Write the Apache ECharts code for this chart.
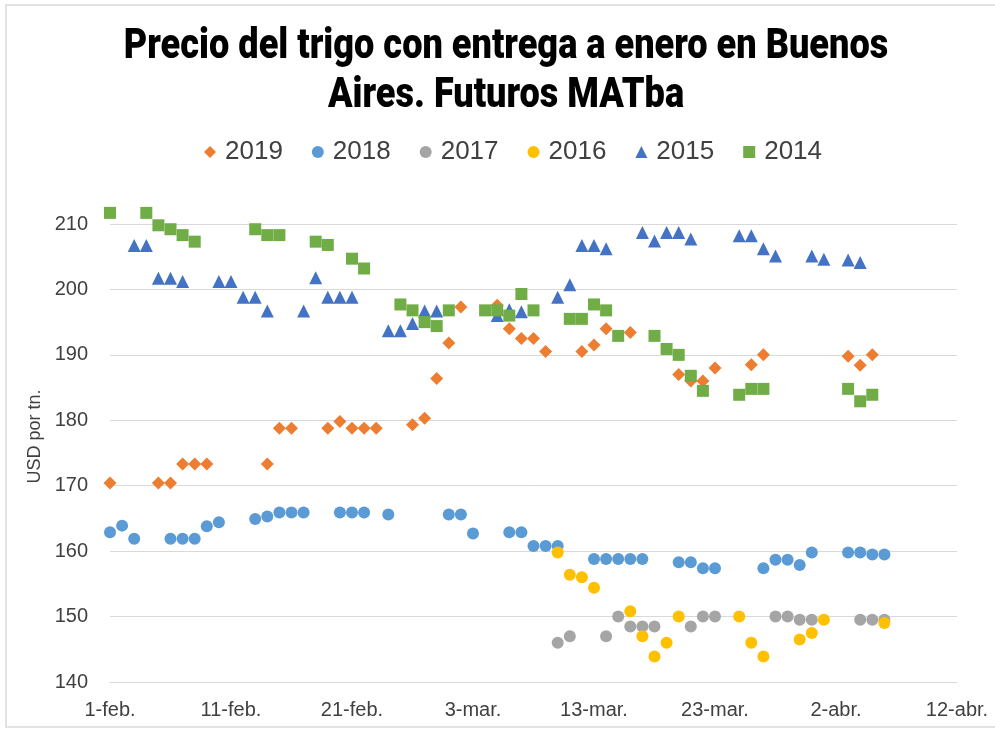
<!DOCTYPE html>
<html>
<head>
<meta charset="utf-8">
<script src="https://cdn.jsdelivr.net/npm/echarts@6/dist/echarts.min.js"></script>
<style>
html,body{margin:0;padding:0;background:#fff;}
#chart{width:995px;height:729px;}
</style>
</head>
<body>
<div id="chart"></div>
<script>
// Title lines and axis labels
const titleLines = ['Precio del trigo con entrega a enero en Buenos', 'Aires. Futuros MATba'];
// X axis: days since 1-feb.
const xTickLabels = ['1-feb.', '11-feb.', '21-feb.', '3-mar.', '13-mar.', '23-mar.', '2-abr.', '12-abr.'];
const seriesNames = ['2019', '2018', '2017', '2016', '2015', '2014'];

const days2019 = [0, 4, 5, 6, 7, 8, 13, 14, 15, 18, 19, 20, 21, 22, 25, 26, 27, 28, 29, 32, 33, 34, 35, 36, 39, 40, 41, 43, 47, 48, 49, 50, 53, 54, 61, 62, 63];
const values2019 = [170.4, 170.4, 170.4, 173.3, 173.3, 173.3, 173.3, 178.8, 178.8, 178.8, 179.8, 178.8, 178.8, 178.8, 179.3, 180.3, 186.4, 191.8, 197.3, 197.6, 194.0, 192.5, 192.5, 190.5, 190.5, 191.5, 194.0, 193.4, 187.0, 186.0, 186.0, 188.0, 188.5, 190.0, 189.8, 188.4, 190.0];

const days2018 = [0, 1, 2, 5, 6, 7, 8, 9, 12, 13, 14, 15, 16, 19, 20, 21, 23, 28, 29, 30, 33, 34, 35, 36, 37, 40, 41, 42, 43, 44, 47, 48, 49, 50, 54, 55, 56, 57, 58, 61, 62, 63, 64];
const values2018 = [162.9, 163.9, 161.9, 161.9, 161.9, 161.9, 163.8, 164.4, 164.9, 165.3, 165.9, 165.9, 165.9, 165.9, 165.9, 165.9, 165.6, 165.6, 165.6, 162.7, 162.9, 162.9, 160.8, 160.8, 160.8, 158.8, 158.8, 158.8, 158.8, 158.8, 158.3, 158.3, 157.4, 157.4, 157.4, 158.7, 158.7, 157.9, 159.8, 159.8, 159.8, 159.5, 159.5];

const days2017 = [37, 38, 41, 42, 43, 44, 45, 48, 49, 50, 55, 56, 57, 58, 62, 63, 64];
const values2017 = [146.0, 147.0, 147.0, 150.0, 148.5, 148.5, 148.5, 148.5, 150.0, 150.0, 150.0, 150.0, 149.5, 149.5, 149.5, 149.5, 149.5];

const days2016 = [37, 38, 39, 40, 43, 44, 45, 46, 47, 52, 53, 54, 57, 58, 59, 64];
const values2016 = [159.8, 156.4, 156.0, 154.4, 150.8, 147.0, 143.9, 146.0, 150.0, 150.0, 146.0, 143.9, 146.5, 147.5, 149.5, 149.0];

const days2015 = [2, 3, 4, 5, 6, 9, 10, 11, 12, 13, 16, 17, 18, 19, 20, 23, 24, 25, 26, 27, 32, 33, 34, 37, 38, 39, 40, 41, 44, 45, 46, 47, 48, 52, 53, 54, 55, 58, 59, 61, 62];
const values2015 = [206.7, 206.7, 201.7, 201.7, 201.2, 201.2, 201.2, 198.8, 198.8, 196.7, 196.7, 201.8, 198.8, 198.8, 198.8, 193.7, 193.7, 194.8, 196.7, 196.7, 196.0, 196.9, 196.6, 198.8, 200.7, 206.7, 206.7, 206.2, 208.7, 207.4, 208.7, 208.7, 207.7, 208.2, 208.2, 206.2, 205.1, 205.1, 204.6, 204.5, 204.1];

const days2014 = [0, 3, 4, 5, 6, 7, 12, 13, 14, 17, 18, 20, 21, 24, 25, 26, 27, 28, 31, 32, 33, 34, 35, 38, 39, 40, 41, 42, 45, 46, 47, 48, 49, 52, 53, 54, 61, 62, 63];
const values2014 = [211.7, 211.7, 209.8, 209.2, 208.3, 207.3, 209.2, 208.3, 208.3, 207.3, 206.8, 204.7, 203.2, 197.7, 196.8, 195.0, 194.4, 196.8, 196.8, 196.8, 196.0, 199.3, 196.8, 195.5, 195.5, 197.7, 196.8, 192.9, 192.9, 190.9, 190.0, 186.8, 184.5, 183.9, 184.8, 184.8, 184.8, 182.9, 183.9];

const allDays = [days2019, days2018, days2017, days2016, days2015, days2014];
const allValues = [values2019, values2018, values2017, values2016, values2015, values2014];
const colors = ['#ED7D31', '#5B9BD5', '#A5A5A5', '#FFC000', '#4472C4', '#70AD47'];
const symbols = ['diamond', 'circle', 'circle', 'circle', 'triangle', 'rect'];
const sizes = [13, 12, 12, 12, 13, 12];

const chart = echarts.init(document.getElementById('chart'));
const series = seriesNames.map((name, i) => ({
  name: name,
  type: 'scatter',
  symbol: symbols[i],
  symbolSize: sizes[i],
  clip: false,
  itemStyle: { color: colors[i], opacity: 1 },
  data: allDays[i].map((d, j) => [d, allValues[i][j]])
}));

const titleStyle = {
  fontFamily: 'Roboto',
  fontWeight: 900,
  fontSize: 42,
  fill: '#000000',
  align: 'center',
  verticalAlign: 'middle'
};

chart.setOption({
  animation: false,
  backgroundColor: '#ffffff',
  textStyle: { fontFamily: 'Liberation Sans' },
  graphic: [
    {
      type: 'rect',
      shape: { x: 6, y: 5, width: 1000, height: 722 },
      style: { fill: 'none', stroke: '#d9d9d9', lineWidth: 1.5 },
      silent: true
    },
    {
      type: 'text', x: 506, y: 47, scaleX: 0.86, silent: true,
      style: Object.assign({ text: titleLines[0] }, titleStyle)
    },
    {
      type: 'text', x: 506, y: 96, scaleX: 0.86, silent: true,
      style: Object.assign({ text: titleLines[1] }, titleStyle)
    }
  ],
  legend: {
    data: seriesNames,
    left: 199,
    top: 134,
    itemWidth: 12,
    itemHeight: 12,
    itemGap: 29,
    textStyle: { fontSize: 26, color: '#404040', fontFamily: 'Liberation Sans', padding: [0, 0, 0, 4] }
  },
  grid: { left: 110, right: 38, top: 224, bottom: 47, containLabel: false },
  xAxis: {
    type: 'value',
    min: 0,
    max: 70,
    interval: 10,
    axisLine: { show: true, lineStyle: { color: '#d9d9d9', width: 1 } },
    axisTick: { show: false },
    splitLine: { show: false },
    axisLabel: {
      margin: 18,
      fontSize: 20,
      color: '#404040',
      formatter: v => xTickLabels[Math.round(v / 10)]
    }
  },
  yAxis: {
    type: 'value',
    min: 140,
    max: 210,
    interval: 10,
    name: 'USD por tn.',
    nameLocation: 'middle',
    nameRotate: 90,
    nameGap: 54,
    nameTextStyle: { fontSize: 18, color: '#404040', padding: [0, 0, 0, 33] },
    axisLine: { show: false },
    axisTick: { show: false },
    splitLine: { lineStyle: { color: '#d9d9d9', width: 1 } },
    axisLabel: { margin: 22, fontSize: 20, color: '#404040' }
  },
  series: series
});
</script>
</body>
</html>
